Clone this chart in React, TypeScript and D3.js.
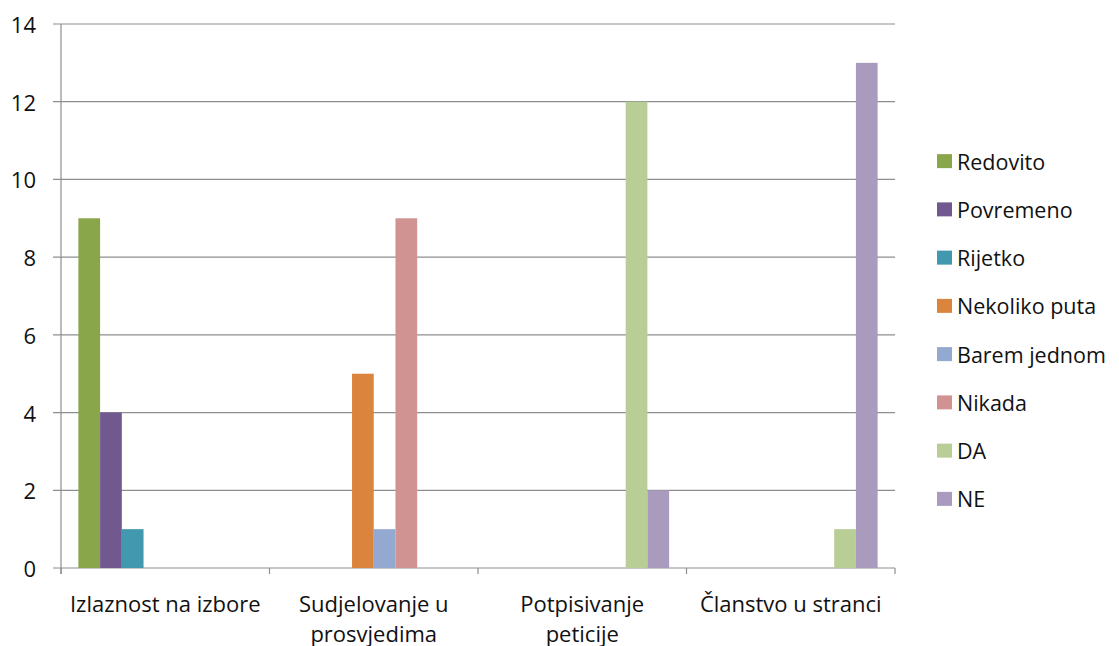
import React from "react";
import * as d3 from "d3";

const categories = ["Izlaznost na izbore", "Sudjelovanje u prosvjedima", "Potpisivanje peticije", "Članstvo u stranci"];
const categoryLines = [["Izlaznost na izbore"], ["Sudjelovanje u", "prosvjedima"], ["Potpisivanje", "peticije"], ["Članstvo u stranci"]];
const seriesNames = ["Redovito", "Povremeno", "Rijetko", "Nekoliko puta", "Barem jednom", "Nikada", "DA", "NE"];
const seriesColors = ["#8AA64B", "#71588F", "#4198AF", "#DB843D", "#93A9CF", "#D19392", "#B9CD96", "#A99BBD"];
const redovito = [9, 0, 0, 0];
const povremeno = [4, 0, 0, 0];
const rijetko = [1, 0, 0, 0];
const nekolikoPuta = [0, 5, 0, 0];
const baremJednom = [0, 1, 0, 0];
const nikada = [0, 9, 0, 0];
const da = [0, 0, 12, 1];
const ne = [0, 0, 2, 13];
const seriesValues = [redovito, povremeno, rijetko, nekolikoPuta, baremJednom, nikada, da, ne];
const yTicks = [0, 2, 4, 6, 8, 10, 12, 14];

const FONT = "'Open Sans', sans-serif";

export default function App() {
  const left = 61, right = 895, top = 24, bottom = 568;
  const x = d3.scaleBand<string>().domain(categories).range([left, right]).paddingInner(0).paddingOuter(0);
  const xs = d3.scaleBand<string>().domain(seriesNames).range([0, x.bandwidth()]).paddingInner(0).paddingOuter(0.8);
  const y = d3.scaleLinear().domain([0, 14]).range([bottom, top]);
  const grid = "#8E8E8E";
  const legendY = d3.scaleBand<string>().domain(seriesNames).range([137, 523]);

  return (
    <svg width={1119} height={646} style={{ position: "absolute", left: 0, top: 0, background: "#fff" }}>
      {yTicks.map((t) => (
        <g key={t}>
          <line x1={53} x2={right} y1={y(t)} y2={y(t)} stroke={grid} strokeWidth={1.2} />
          <text x={36} y={y(t)} textAnchor="end" dominantBaseline="central" fontFamily={FONT} fontSize={22} fill="#111">{t}</text>
        </g>
      ))}
      <line x1={left} x2={left} y1={top} y2={bottom + 6} stroke={grid} strokeWidth={1.2} />
      {d3.range(categories.length + 1).map((i) => {
        const xx = left + i * x.step();
        return <line key={i} x1={xx} x2={xx} y1={bottom} y2={bottom + 6} stroke={grid} strokeWidth={1.2} />;
      })}
      {seriesValues.map((vals, si) =>
        vals.map((v, ci) =>
          v > 0 ? (
            <rect key={`${si}-${ci}`} x={(x(categories[ci]) ?? 0) + (xs(seriesNames[si]) ?? 0)} y={y(v)} width={xs.bandwidth()} height={y(0) - y(v)} fill={seriesColors[si]} />
          ) : null
        )
      )}
      {categoryLines.map((lines, ci) => (
        <text key={ci} x={(x(categories[ci]) ?? 0) + x.bandwidth() / 2} y={612} textAnchor="middle" fontFamily={FONT} fontSize={22} fill="#111">
          {lines.map((l, li) => (
            <tspan key={li} x={(x(categories[ci]) ?? 0) + x.bandwidth() / 2} dy={li === 0 ? 0 : 30}>{l}</tspan>
          ))}
        </text>
      ))}
      {seriesNames.map((s, i) => {
        const cy = (legendY(s) ?? 0) + legendY.bandwidth() / 2;
        return (
          <g key={s}>
            <rect x={937} y={cy - 7} width={15} height={14} fill={seriesColors[i]} />
            <text x={957} y={cy} dominantBaseline="central" fontFamily={FONT} fontSize={21.5} fill="#111">{s}</text>
          </g>
        );
      })}
    </svg>
  );
}
